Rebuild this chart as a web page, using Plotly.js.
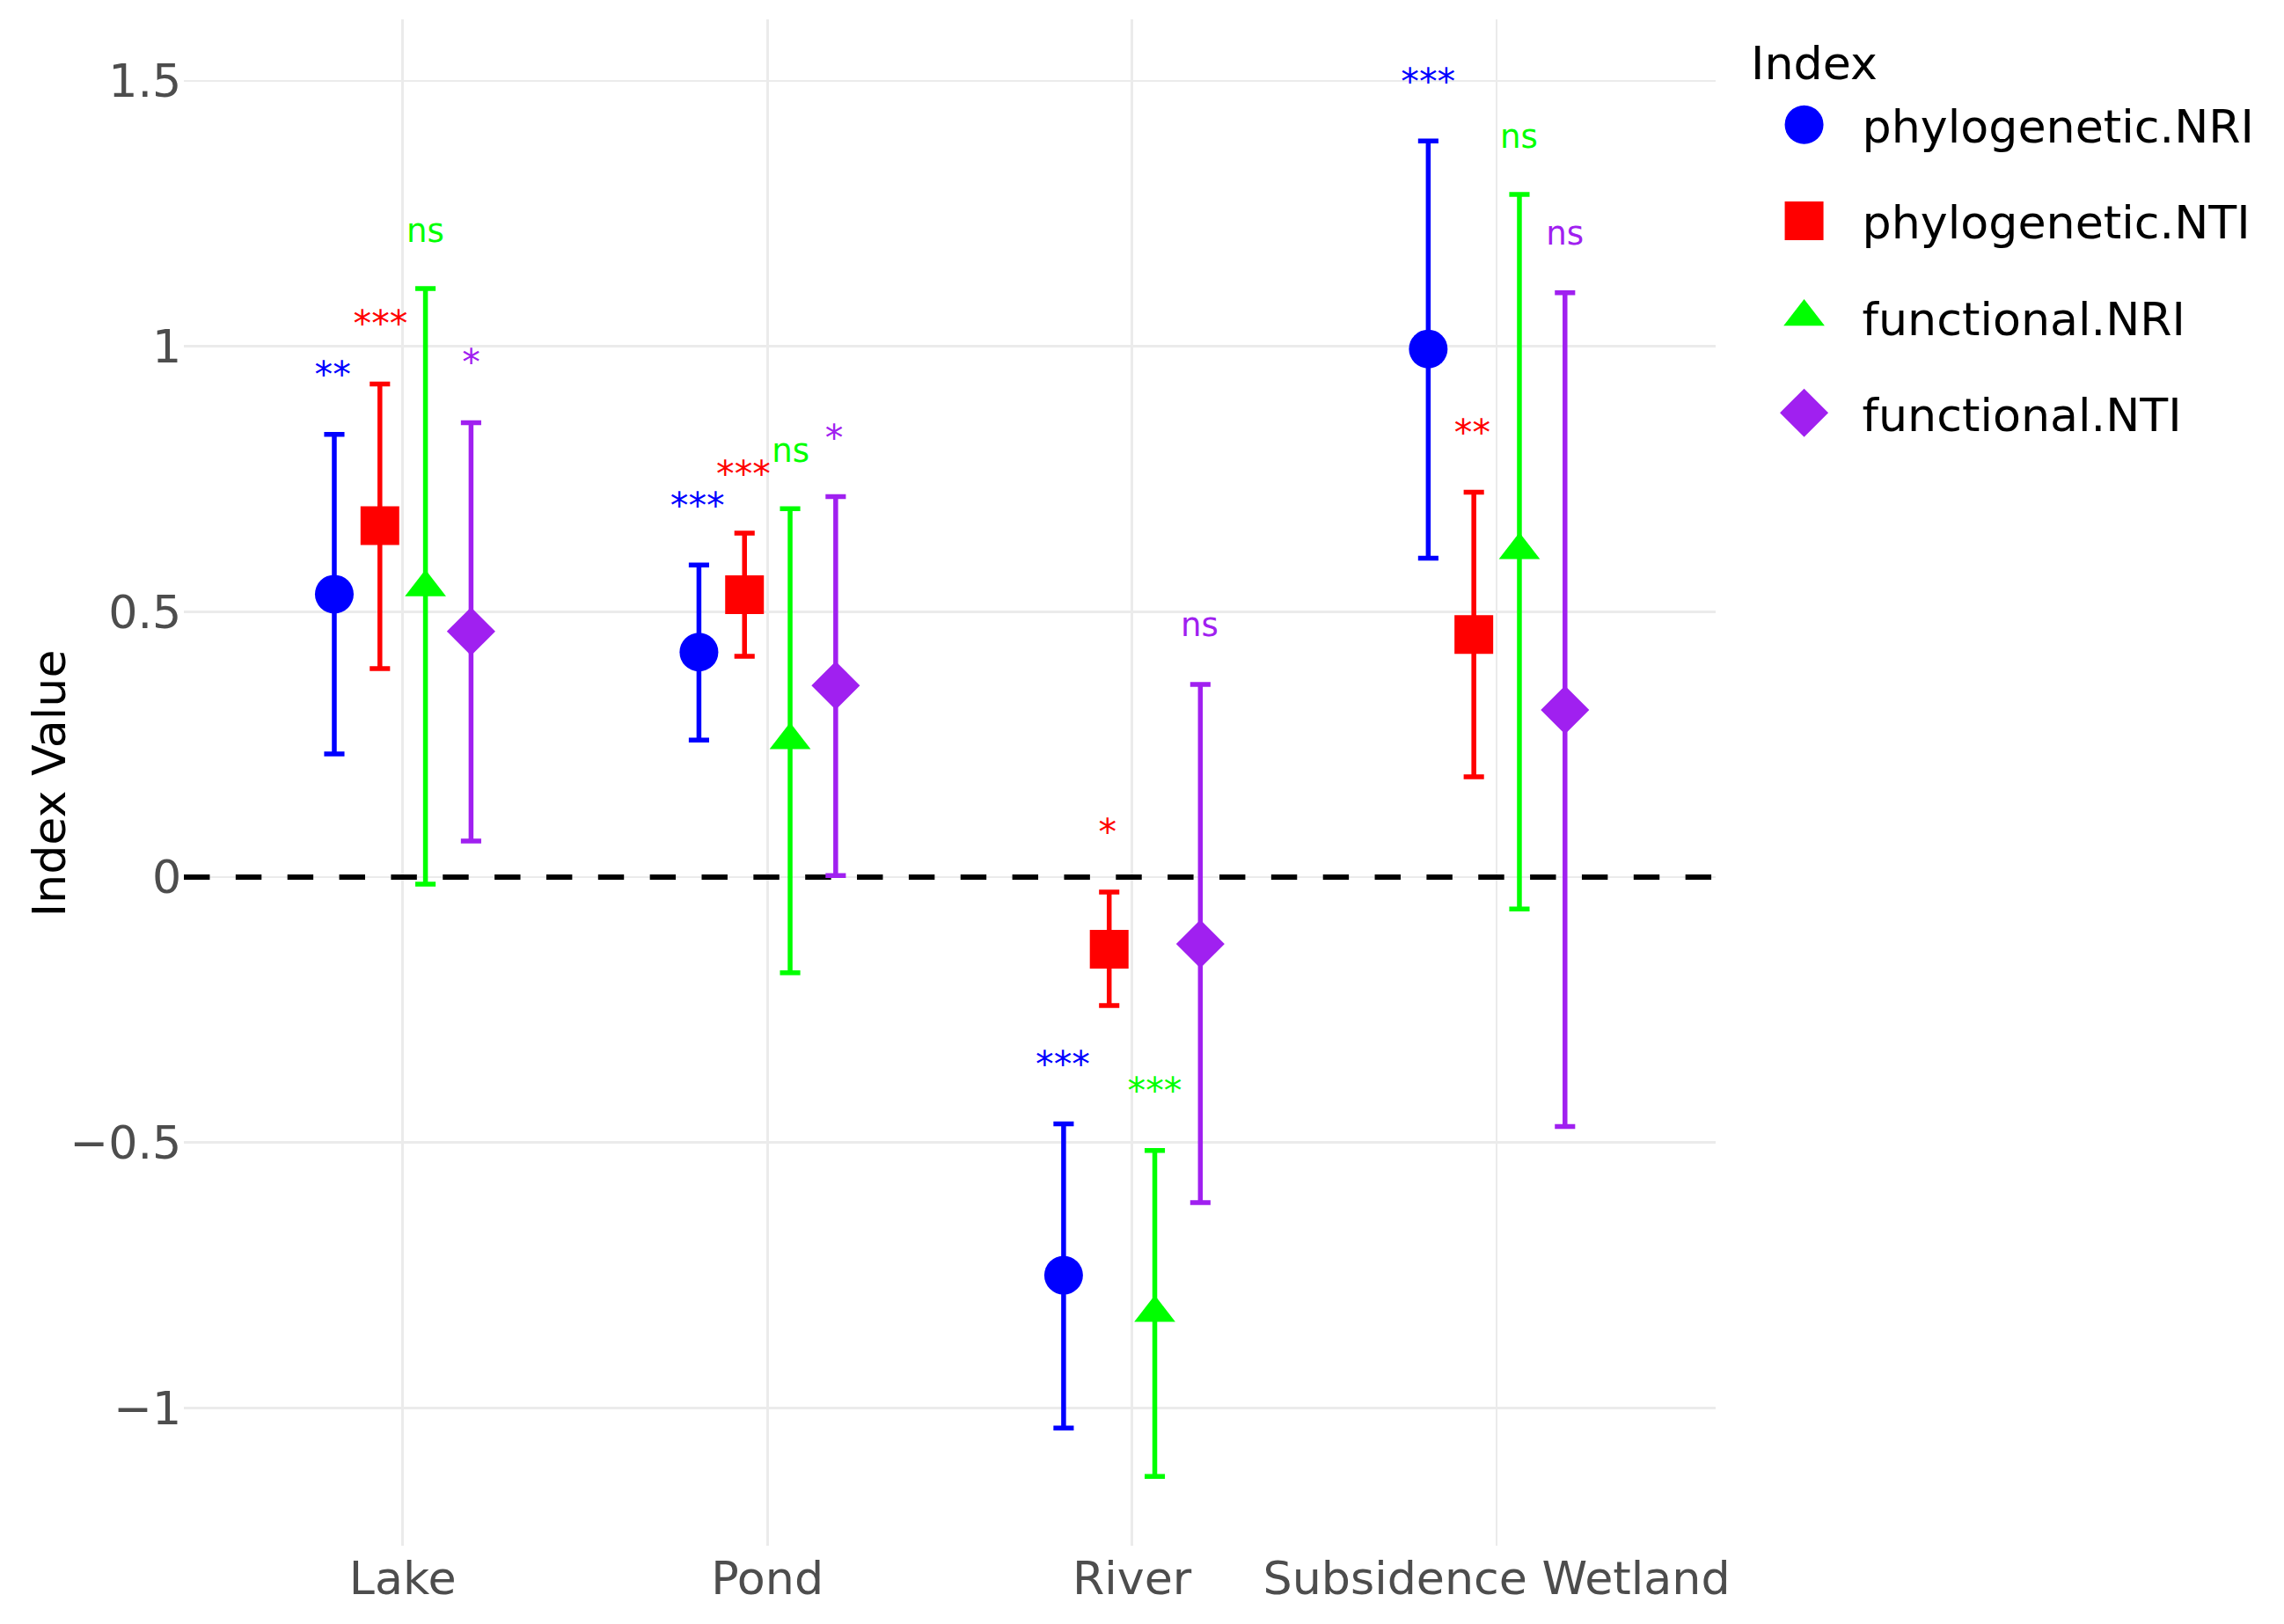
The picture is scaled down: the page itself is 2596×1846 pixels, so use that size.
<!DOCTYPE html>
<html>
<head>
<meta charset="utf-8">
<script src="https://cdn.plot.ly/plotly-3.0.1.min.js"></script>
<style>
  html, body { margin: 0; padding: 0; background: #ffffff; }
  body { width: 2596px; height: 1846px; overflow: visible; }
  #chart { width: 944px; height: 671px; transform: scale(2.75); transform-origin: 0 0; }
</style>
</head>
<body>
<div id="chart"></div>
<script>
// ---- data ----
const categories = ["Lake", "Pond", "River", "Subsidence Wetland"];
const indexNames = ["phylogenetic.NRI", "phylogenetic.NTI", "functional.NRI", "functional.NTI"];

const phyloNRIMean  = [0.533, 0.424, -0.750, 0.995];
const phyloNRILower = [0.232, 0.258, -1.038, 0.601];
const phyloNRIUpper = [0.834, 0.588, -0.465, 1.387];
const phyloNRISig   = ["**", "***", "***", "***"];

const phyloNTIMean  = [0.662, 0.532, -0.136, 0.457];
const phyloNTILower = [0.393, 0.416, -0.242, 0.189];
const phyloNTIUpper = [0.929, 0.648, -0.028, 0.725];
const phyloNTISig   = ["***", "***", "*", "**"];

const funcNRIMean  = [0.546, 0.258, -0.821, 0.616];
const funcNRILower = [-0.013, -0.180, -1.129, -0.060];
const funcNRIUpper = [1.109, 0.694, -0.515, 1.286];
const funcNRISig   = ["ns", "ns", "***", "ns"];

const funcNTIMean  = [0.463, 0.361, -0.126, 0.315];
const funcNTILower = [0.068, 0.003, -0.613, -0.470];
const funcNTIUpper = [0.856, 0.717, 0.363, 1.101];
const funcNTISig   = ["*", "*", "ns", "ns"];

const yTickVals = [-1, -0.5, 0, 0.5, 1, 1.5];
const referenceLevel = 0;
const yAxisTitle = "Index Value";
const legendTitle = "Index";

// ---- styling ----
const FONT = "DejaVu Sans";
const colors  = ["#0000FF", "#FF0000", "#00FF00", "#A020F0"];
const symbols = ["circle", "square", "triangle-up", "diamond"];
const sizes   = [16, 16, 14.7, 15.4];
const dodgeWidth = 0.5;
const xRange = [0.4, 4.6];
const yRange = [-1.26, 1.616];

const means  = [phyloNRIMean, phyloNTIMean, funcNRIMean, funcNTIMean];
const lowers = [phyloNRILower, phyloNTILower, funcNRILower, funcNTILower];
const uppers = [phyloNRIUpper, phyloNTIUpper, funcNRIUpper, funcNTIUpper];
const sigs   = [phyloNRISig, phyloNTISig, funcNRISig, funcNTISig];

const nGroups = indexNames.length;
function dodgeOffset(j) {
  const step = dodgeWidth / nGroups;
  return -dodgeWidth / 2 + step * (j + 0.5);
}
const catPos = categories.map((c, i) => i + 1);

// dashed reference line at zero (drawn first, beneath the error bars)
const traces = [{
  type: "scatter", mode: "lines",
  x: xRange, y: [referenceLevel, referenceLevel],
  line: { color: "#000000", width: 2.2, dash: "10.7px,10.7px" },
  showlegend: false, hoverinfo: "skip", cliponaxis: true
}];
const annotations = [];
indexNames.forEach((name, j) => {
  const xs = catPos.map(p => p + dodgeOffset(j));
  traces.push({
    type: "scatter",
    mode: "markers",
    name: name,
    legendgroup: name,
    x: xs,
    y: means[j],
    marker: { color: colors[j], symbol: symbols[j], size: sizes[j], line: { width: 0 } },
    error_y: {
      type: "data",
      symmetric: false,
      array: means[j].map((m, i) => uppers[j][i] - m),
      arrayminus: means[j].map((m, i) => m - lowers[j][i]),
      color: colors[j],
      thickness: 2,
      width: 4.2
    },
    hoverinfo: "skip"
  });
  xs.forEach((x, i) => {
    const isStar = sigs[j][i].indexOf("*") >= 0;
    annotations.push({
      x: x, y: uppers[j][i], xref: "x", yref: "y",
      text: sigs[j][i], showarrow: false,
      yanchor: "bottom", xanchor: "center", yshift: isStar ? 13.5 : 14.5,
      font: { family: FONT, size: isStar ? 15 : 13.5, color: colors[j] }
    });
  });
});

// y-axis title, placed in the left margin
annotations.push({
  xref: "paper", yref: "paper", x: -0.0892, y: 0.5,
  xanchor: "center", yanchor: "middle", textangle: -90,
  text: yAxisTitle, showarrow: false,
  font: { family: FONT, size: 19, color: "#000000" }
});

const layout = {
  width: 944,
  height: 671,
  margin: { l: 76.4, r: 234.5, t: 7.9, b: 32, pad: 0, autoexpand: false },
  paper_bgcolor: "#ffffff",
  plot_bgcolor: "#ffffff",
  font: { family: FONT, size: 19, color: "#000000" },
  showlegend: true,
  legend: {
    title: { text: legendTitle, font: { family: FONT, size: 19, color: "#000000" } },
    font: { family: FONT, size: 19, color: "#000000" },
    x: 1.02, xanchor: "left", y: 1.0, yanchor: "top",
    tracegroupgap: 12,
    itemwidth: 38,
    itemsizing: "trace",
    bgcolor: "rgba(0,0,0,0)"
  },
  xaxis: {
    type: "linear",
    range: xRange,
    tickmode: "array",
    tickvals: catPos,
    ticktext: categories,
    showgrid: true, gridcolor: "#ebebeb", gridwidth: 1,
    zeroline: false, showline: false, ticks: "",
    tickfont: { family: FONT, size: 19, color: "#4d4d4d" },
    fixedrange: true
  },
  yaxis: {
    range: yRange,
    tickmode: "array",
    tickvals: yTickVals,
    showgrid: true, gridcolor: "#ebebeb", gridwidth: 1,
    zeroline: false, showline: false, ticks: "",
    tickfont: { family: FONT, size: 19, color: "#4d4d4d" },
    fixedrange: true
  },
  annotations: annotations,
  hovermode: false
};

Plotly.newPlot("chart", traces, layout, { displayModeBar: false, staticPlot: true, responsive: false });
</script>
</body>
</html>
